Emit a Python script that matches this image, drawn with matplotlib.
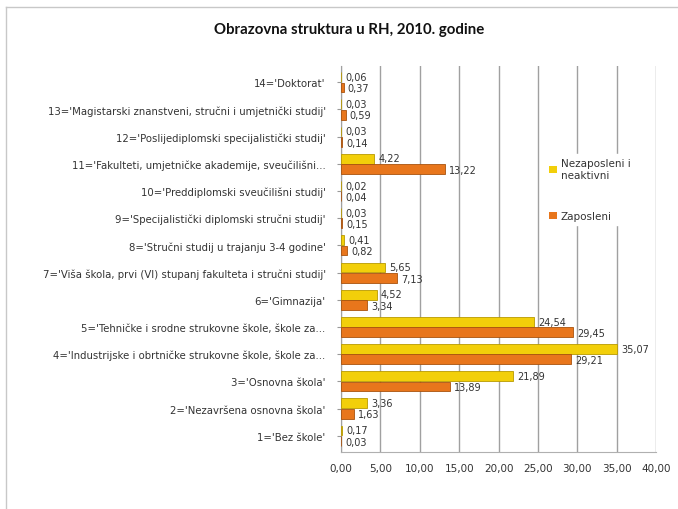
import matplotlib
matplotlib.use("Agg")
import matplotlib.pyplot as plt
from matplotlib.lines import Line2D
from matplotlib.patches import Patch
import numpy as np

plt.rcParams["font.family"] = ["DejaVu Sans"]

categories = [
    "1='Bez škole'",
    "2='Nezavršena osnovna škola'",
    "3='Osnovna škola'",
    "4='Industrijske i obrtničke strukovne škole, škole za...",
    "5='Tehničke i srodne strukovne škole, škole za...",
    "6='Gimnazija'",
    "7='Viša škola, prvi (VI) stupanj fakulteta i stručni studij'",
    "8='Stručni studij u trajanju 3-4 godine'",
    "9='Specijalistički diplomski stručni studij'",
    "10='Preddiplomski sveučilišni studij'",
    "11='Fakulteti, umjetničke akademije, sveučilišni...",
    "12='Poslijediplomski specijalistički studij'",
    "13='Magistarski znanstveni, stručni i umjetnički studij'",
    "14='Doktorat'",
]
nezaposleni = [0.17, 3.36, 21.89, 35.07, 24.54, 4.52, 5.65, 0.41, 0.03, 0.02, 4.22, 0.03, 0.03, 0.06]
zaposleni = [0.03, 1.63, 13.89, 29.21, 29.45, 3.34, 7.13, 0.82, 0.15, 0.04, 13.22, 0.14, 0.59, 0.37]
x_ticks = [0, 5, 10, 15, 20, 25, 30, 35, 40]

yellow = "#F2CF0A"
yellow_edge = "#B89A00"
orange = "#E8761C"
orange_edge = "#A8520E"
text_color = "#333333"


def fmt(v):
    return f"{v:.2f}".replace(".", ",")


fig = plt.figure(figsize=(6.78, 5.10), dpi=100)
ax = fig.add_axes([341 / 678, 1 - 453 / 510, 315 / 678, 386 / 510])

y = np.arange(1, len(categories) + 1)
h = 0.36
ax.barh(y + h / 2 + 0.01, nezaposleni, height=h, color=yellow, edgecolor=yellow_edge, linewidth=0.6, zorder=3)
ax.barh(y - h / 2 - 0.01, zaposleni, height=h, color=orange, edgecolor=orange_edge, linewidth=0.6, zorder=3)

for yi, v in zip(y, nezaposleni):
    ax.text(v + 0.5, yi + 0.2, fmt(v), fontsize=7, color=text_color, va="center", ha="left", zorder=4)
for yi, v in zip(y, zaposleni):
    ax.text(v + 0.5, yi - 0.22, fmt(v), fontsize=7, color=text_color, va="center", ha="left", zorder=4)

ax.set_xlim(0, 40)
ax.set_ylim(0.4, 14.6)
ax.set_xticks(x_ticks)
ax.set_xticklabels([fmt(t) for t in x_ticks], fontsize=7.5, color=text_color)
ax.set_yticks(y)
ax.set_yticklabels(categories, fontsize=7.3, color=text_color)
ax.tick_params(axis="y", length=3, color="#999999", pad=8)
ax.tick_params(axis="x", length=0, pad=8)
ax.grid(axis="x", color="#A0A0A0", linewidth=1.0, zorder=0)
for side in ["top", "right"]:
    ax.spines[side].set_visible(False)
ax.spines["left"].set_color("#A0A0A0")
ax.spines["bottom"].set_color("#B0B0B0")

fig.text(349 / 678, 1 - 30 / 510, "Obrazovna struktura u RH, 2010. godine",
         fontsize=10.8, fontweight="bold", ha="center", va="center", color="#111111",
         family=["Lato", "DejaVu Sans"])

handles = [Patch(facecolor=yellow, edgecolor="none"), Patch(facecolor=orange, edgecolor="none")]
fig.legend(handles, ["Nezaposleni i\nneaktivni", "Zaposleni"],
           loc="upper left", bbox_to_anchor=(540 / 678, 1 - 150 / 510),
           frameon=True, framealpha=1, edgecolor="white", facecolor="white",
           fontsize=7.5, handlelength=0.7, handleheight=0.7, handletextpad=0.4,
           labelspacing=3.0, labelcolor=text_color)

fig.add_artist(Line2D([6 / 678, 6 / 678], [0, 1 - 8 / 510], transform=fig.transFigure, color="#C8C8C8", linewidth=1))
fig.add_artist(Line2D([6 / 678, 1], [1 - 8 / 510, 1 - 8 / 510], transform=fig.transFigure, color="#C8C8C8", linewidth=1))

fig.savefig("out.png", dpi=100)
